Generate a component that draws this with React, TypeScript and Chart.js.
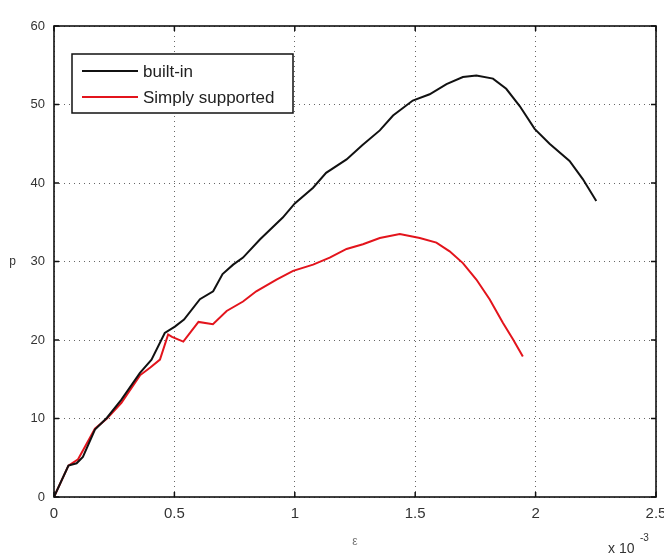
import React, { useEffect, useRef } from "react";
import { Chart, registerables } from "chart.js";

Chart.register(...registerables);

// strain in units of 1e-3
const strainBuiltIn = [0, 0.06, 0.094, 0.12, 0.17, 0.22, 0.28, 0.357, 0.405, 0.46, 0.502, 0.54, 0.606, 0.661, 0.7, 0.744, 0.785, 0.855, 0.95, 1.0, 1.076, 1.13, 1.215, 1.28, 1.353, 1.408, 1.49, 1.56, 1.63, 1.698, 1.754, 1.823, 1.878, 1.934, 1.996, 2.058, 2.141, 2.196, 2.252];
const loadBuiltIn = [0, 4.0, 4.3, 5.1, 8.6, 10.1, 12.4, 15.8, 17.5, 20.9, 21.7, 22.6, 25.2, 26.2, 28.4, 29.6, 30.5, 32.8, 35.6, 37.4, 39.4, 41.3, 43.0, 44.8, 46.7, 48.6, 50.5, 51.3, 52.6, 53.5, 53.7, 53.3, 52.0, 49.8, 46.9, 45.0, 42.8, 40.5, 37.7];

const strainSimply = [0, 0.06, 0.1, 0.17, 0.22, 0.28, 0.357, 0.4, 0.44, 0.474, 0.49, 0.537, 0.6, 0.66, 0.717, 0.785, 0.84, 0.924, 0.993, 1.076, 1.145, 1.215, 1.283, 1.353, 1.436, 1.519, 1.588, 1.643, 1.698, 1.754, 1.809, 1.864, 1.906, 1.947];
const loadSimply = [0, 4.0, 4.8, 8.7, 10.0, 12.0, 15.5, 16.5, 17.5, 20.7, 20.4, 19.8, 22.3, 22.0, 23.7, 24.9, 26.2, 27.7, 28.8, 29.6, 30.5, 31.6, 32.2, 33.0, 33.5, 33.0, 32.4, 31.3, 29.8, 27.7, 25.2, 22.2, 20.1, 17.9];

const xTicks = [0, 0.5, 1, 1.5, 2, 2.5];
const yTicks = [0, 10, 20, 30, 40, 50, 60];

const seriesNames = ["built-in", "Simply supported"];
const seriesColors = ["#111111", "#e3141c"];

const FONT = "'Liberation Sans', Arial, sans-serif";

const matlabPlugin = {
  id: "matlabDecor",
  afterDraw(chart: any) {
    const { ctx, chartArea } = chart;
    const { left, right, top, bottom } = chartArea;
    const xs = chart.scales.x;
    const ys = chart.scales.y;
    ctx.save();
    // inward ticks
    ctx.strokeStyle = "#111";
    ctx.lineWidth = 1.5;
    ctx.beginPath();
    xTicks.forEach((t) => {
      const px = xs.getPixelForValue(t);
      ctx.moveTo(px, bottom);
      ctx.lineTo(px, bottom - 5);
      ctx.moveTo(px, top);
      ctx.lineTo(px, top + 5);
    });
    yTicks.forEach((t) => {
      const py = ys.getPixelForValue(t);
      ctx.moveTo(left, py);
      ctx.lineTo(left + 5, py);
      ctx.moveTo(right, py);
      ctx.lineTo(right - 5, py);
    });
    ctx.stroke();
    // box
    ctx.lineWidth = 1.6;
    ctx.strokeStyle = "#111";
    ctx.strokeRect(left, top, right - left, bottom - top);

    // legend
    const lx = left + 18;
    const ly = top + 28;
    const lw = 221;
    const lh = 59;
    ctx.fillStyle = "#fff";
    ctx.fillRect(lx, ly, lw, lh);
    ctx.lineWidth = 1.5;
    ctx.strokeStyle = "#111";
    ctx.strokeRect(lx, ly, lw, lh);
    ctx.font = `17px ${FONT}`;
    ctx.textBaseline = "middle";
    ctx.textAlign = "left";
    seriesNames.forEach((name, i) => {
      const yy = ly + 17 + i * 26;
      ctx.strokeStyle = seriesColors[i];
      ctx.lineWidth = 2;
      ctx.beginPath();
      ctx.moveTo(lx + 10, yy);
      ctx.lineTo(lx + 66, yy);
      ctx.stroke();
      ctx.fillStyle = "#222";
      ctx.fillText(name, lx + 71, yy + 1);
    });

    // axis labels
    ctx.fillStyle = "#777";
    ctx.font = `12px ${FONT}`;
    ctx.textAlign = "center";
    ctx.fillText("ε", (left + right) / 2, 542);
    ctx.fillStyle = "#333";
    ctx.textAlign = "right";
    ctx.fillText("p", 16, (top + bottom) / 2);
    // multiplier
    ctx.font = `14px ${FONT}`;
    ctx.textAlign = "left";
    ctx.fillText("x 10", 608, 549);
    ctx.font = `10px ${FONT}`;
    ctx.fillText("-3", 640, 538);
    ctx.restore();
  },
};

export default function App() {
  const ref = useRef<HTMLCanvasElement | null>(null);
  useEffect(() => {
    if (!ref.current) return;
    const chart = new Chart(ref.current, {
      type: "line",
      data: {
        datasets: [
          {
            label: seriesNames[0],
            data: strainBuiltIn.map((x, i) => ({ x, y: loadBuiltIn[i] })),
            borderColor: seriesColors[0],
            borderWidth: 2,
            pointRadius: 0,
            tension: 0,
          },
          {
            label: seriesNames[1],
            data: strainSimply.map((x, i) => ({ x, y: loadSimply[i] })),
            borderColor: seriesColors[1],
            borderWidth: 2,
            pointRadius: 0,
            tension: 0,
          },
        ],
      },
      options: {
        animation: false,
        responsive: false,
        maintainAspectRatio: false,
        layout: { padding: { top: 26, right: 8, left: 0, bottom: 0 } },
        plugins: { legend: { display: false }, tooltip: { enabled: false } },
        scales: {
          x: {
            type: "linear",
            min: 0,
            max: 2.5,
            afterBuildTicks: (scale: any) => {
              scale.ticks = xTicks.map((v) => ({ value: v }));
            },
            afterFit: (scale: any) => {
              scale.height = 59;
              scale.paddingLeft = 0;
              scale.paddingRight = 0;
            },
            ticks: {
              padding: 8,
              color: "#333",
              font: { family: FONT, size: 15 },
              maxRotation: 0,
              callback: (v: any) => String(v),
            },
            grid: { color: "rgba(0,0,0,0.6)", drawTicks: false, lineWidth: 1 },
            border: { display: false, dash: [1, 4] },
          },
          y: {
            type: "linear",
            min: 0,
            max: 60,
            afterBuildTicks: (scale: any) => {
              scale.ticks = yTicks.map((v) => ({ value: v }));
            },
            afterFit: (scale: any) => {
              scale.width = 54;
              scale.paddingTop = 0;
              scale.paddingBottom = 0;
            },
            ticks: {
              padding: 9,
              color: "#333",
              font: { family: FONT, size: 13 },
              callback: (v: any) => String(v),
            },
            grid: { color: "rgba(0,0,0,0.6)", drawTicks: false, lineWidth: 1 },
            border: { display: false, dash: [1, 4] },
          },
        },
      },
      plugins: [matlabPlugin],
    });
    return () => chart.destroy();
  }, []);
  return (
    <div style={{ position: "absolute", left: 0, top: 0, width: 664, height: 556, background: "#fff" }}>
      <canvas ref={ref} width={664} height={556} style={{ width: 664, height: 556 }} />
    </div>
  );
}
